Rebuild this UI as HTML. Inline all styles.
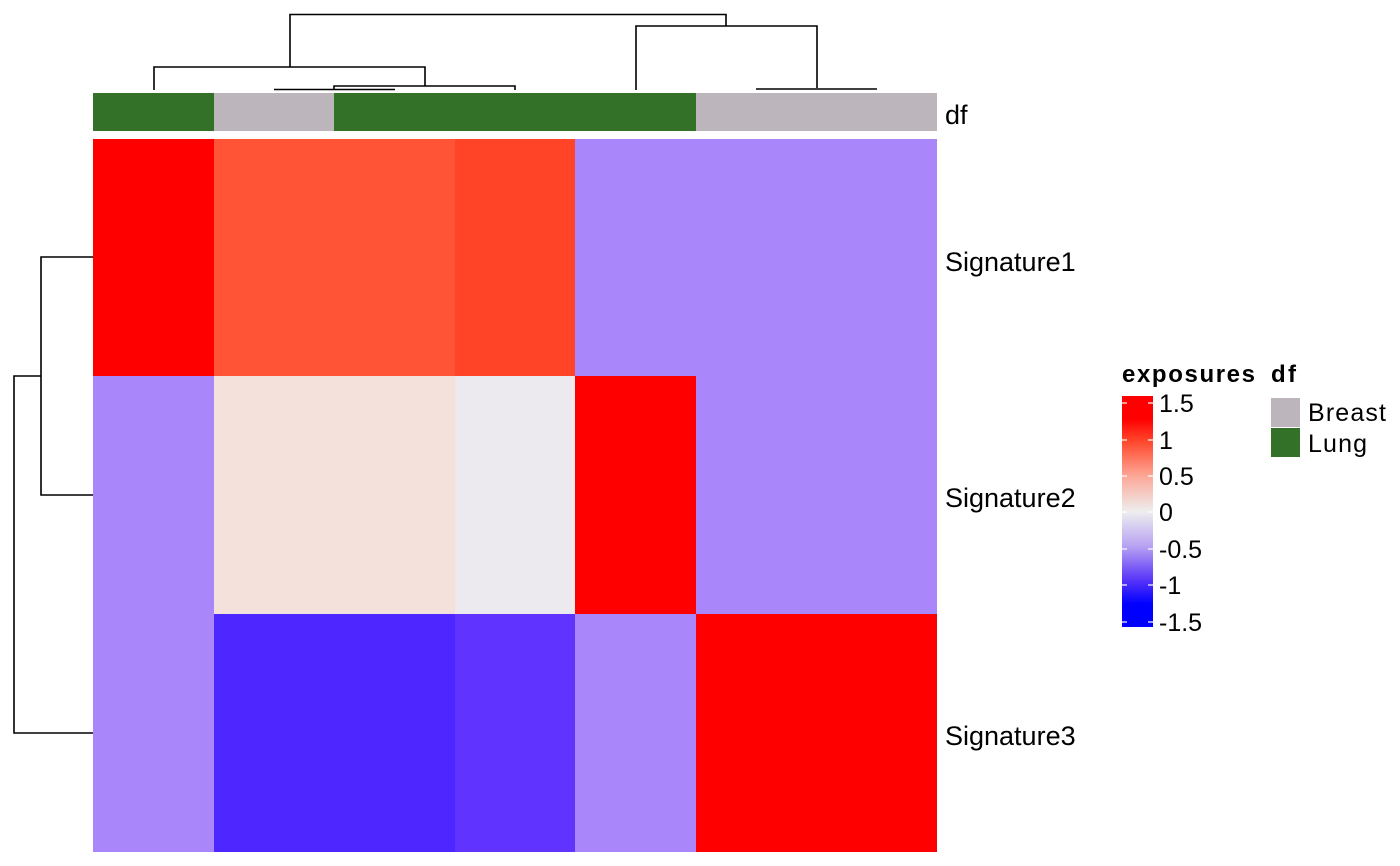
<!DOCTYPE html>
<html><head><meta charset="utf-8"><style>html,body{margin:0;padding:0;background:#fff;}svg{display:block;}</style></head>
<body>
<svg width="1400" height="866" viewBox="0 0 1400 866" xmlns="http://www.w3.org/2000/svg" font-family="Liberation Sans, Arial, sans-serif">
<defs>
<linearGradient id="cb" x1="0" y1="0" x2="0" y2="1">
<stop offset="0" stop-color="#FF0000"/>
<stop offset="0.1" stop-color="#FF0000"/>
<stop offset="0.2" stop-color="#FF4A2E"/>
<stop offset="0.35" stop-color="#FCA999"/>
<stop offset="0.5" stop-color="#EEEEEE"/>
<stop offset="0.65" stop-color="#B8A2F2"/>
<stop offset="0.8" stop-color="#5532F8"/>
<stop offset="0.9" stop-color="#0000FF"/>
<stop offset="1" stop-color="#0000FF"/>
</linearGradient>
</defs>
<rect x="93" y="93" width="121" height="38" fill="#337028"/>
<rect x="214" y="93" width="120" height="38" fill="#BCB6BC"/>
<rect x="334" y="93" width="362" height="38" fill="#337028"/>
<rect x="696" y="93" width="241" height="38" fill="#BCB6BC"/>
<rect x="93" y="139" width="121" height="237" fill="#FF0000"/>
<rect x="214" y="139" width="241" height="237" fill="#FF5436"/>
<rect x="455" y="139" width="120" height="237" fill="#FF4428"/>
<rect x="575" y="139" width="362" height="237" fill="#A986F9"/>
<rect x="93" y="376" width="121" height="238" fill="#A986F9"/>
<rect x="214" y="376" width="241" height="238" fill="#F5E1DC"/>
<rect x="455" y="376" width="120" height="238" fill="#ECE9EF"/>
<rect x="575" y="376" width="121" height="238" fill="#FF0000"/>
<rect x="696" y="376" width="241" height="238" fill="#A986F9"/>
<rect x="93" y="614" width="121" height="238" fill="#A986F9"/>
<rect x="214" y="614" width="241" height="238" fill="#4E26FF"/>
<rect x="455" y="614" width="120" height="238" fill="#6133FF"/>
<rect x="575" y="614" width="121" height="238" fill="#A986F9"/>
<rect x="696" y="614" width="241" height="238" fill="#FF0000"/>
<g stroke="#000" stroke-width="1.6" fill="none">
<polyline points="290,67 290,14.5 726,14.5 726,26"/>
<polyline points="636,90 636,26 817,26 817,88"/>
<polyline points="756,89 877,89"/>
<polyline points="154,90 154,67 425,67 425,86"/>
<polyline points="334,89 334,86 515,86 515,90"/>
<polyline points="274,89.5 395,89.5"/>
</g>
<g stroke="#000" stroke-width="1.6" fill="none">
<polyline points="93,257 41,257 41,495 93,495"/>
<polyline points="41,376 14,376 14,733 93,733"/>
</g>
<g font-size="27" fill="#000">
<text x="945" y="124">df</text>
<text x="945" y="271">Signature1</text>
<text x="945" y="507">Signature2</text>
<text x="945" y="745">Signature3</text>
</g>
<text x="1122" y="382" font-size="24" font-weight="bold" textLength="133">exposures</text>
<text x="1271" y="382" font-size="24" font-weight="bold" textLength="25">df</text>
<rect x="1122" y="396" width="31" height="231" fill="url(#cb)"/>
<g stroke="#fff" stroke-width="1.2">
<line x1="1122" y1="403" x2="1127" y2="403"/><line x1="1148" y1="403" x2="1153" y2="403"/>
<line x1="1122" y1="440" x2="1127" y2="440"/><line x1="1148" y1="440" x2="1153" y2="440"/>
<line x1="1122" y1="476" x2="1127" y2="476"/><line x1="1148" y1="476" x2="1153" y2="476"/>
<line x1="1122" y1="512" x2="1127" y2="512"/><line x1="1148" y1="512" x2="1153" y2="512"/>
<line x1="1122" y1="549" x2="1127" y2="549"/><line x1="1148" y1="549" x2="1153" y2="549"/>
<line x1="1122" y1="585" x2="1127" y2="585"/><line x1="1148" y1="585" x2="1153" y2="585"/>
<line x1="1122" y1="622" x2="1127" y2="622"/><line x1="1148" y1="622" x2="1153" y2="622"/>
</g>
<g font-size="25" fill="#000">
<text x="1159" y="412">1.5</text>
<text x="1159" y="449">1</text>
<text x="1159" y="485">0.5</text>
<text x="1159" y="521">0</text>
<text x="1159" y="558">-0.5</text>
<text x="1159" y="594">-1</text>
<text x="1159" y="631">-1.5</text>
</g>
<rect x="1271" y="398" width="29" height="29" fill="#BCB6BC"/>
<rect x="1271" y="428" width="29" height="29" fill="#337028"/>
<text x="1308" y="421" font-size="25" textLength="78">Breast</text>
<text x="1308" y="452" font-size="25" textLength="59">Lung</text>
</svg>
</body></html>
